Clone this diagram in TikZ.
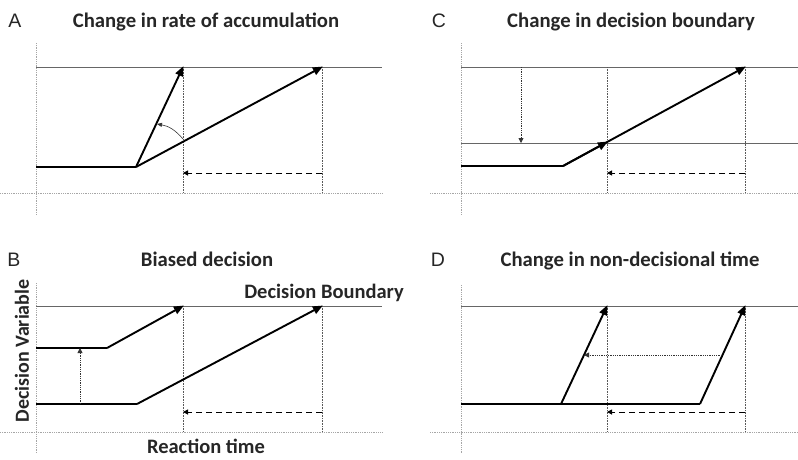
\documentclass[tikz,border=0pt]{standalone}
\usepackage{fontspec}
\setmainfont{Carlito}
\newfontfamily\arialf{Liberation Sans}
\usetikzlibrary{arrows.meta}
\begin{document}
\begin{tikzpicture}[x=1pt,y=-1pt,
  axisline/.style={gray!70, line width=0.8pt, densely dotted},
  bound/.style={gray!80!black, line width=0.9pt},
  guide/.style={gray!70!black, line width=0.6pt, densely dotted},
  trace/.style={black, line width=1.9pt},
  tracearrow/.style={trace, -{Triangle[length=10pt,width=8pt]}, shorten >=-1pt},
  rtshift/.style={black, line width=1pt, dash pattern=on 6pt off 4pt, -{Triangle[length=5pt,width=5pt]}},
  dotarrow/.style={black!80, line width=0.8pt, densely dotted, -{Triangle[length=5pt,width=5pt]}},
  rotarrow/.style={gray!40!black, line width=0.6pt, -{Triangle[length=5pt,width=4pt]}},
  ttl/.style={font=\fontsize{20.7}{24}\selectfont\bfseries, text=black!85, anchor=base, inner sep=0pt},
  lett/.style={font=\arialf\fontsize{19.5}{22}\selectfont, text=black!85, anchor=base, inner sep=0pt},
  lbl/.style={font=\fontsize{20.5}{24}\selectfont\bfseries, text=black!85, inner sep=0pt}]
\useasboundingbox (0,0) rectangle (798,459);

% ---------------- Panel A ----------------
\node[lett] (Alet) at (15,27) {A};
\node[ttl] (Attl) at (206,27) {Change in rate of accumulation};
\coordinate (Aax1) at (36,43); \coordinate (Aax2) at (36,215);
\coordinate (Ahx1) at (0,193); \coordinate (Ahx2) at (382,193);
\coordinate (Ab1) at (36,67); \coordinate (Ab2) at (382,67);
\coordinate (As) at (36,167); \coordinate (Ak) at (136,167);
\coordinate (Ae1) at (183,67); \coordinate (Ae2) at (322,67);
\coordinate (Ag1) at (183,193); \coordinate (Ag2) at (322,193);
\coordinate (Ad1) at (322,173); \coordinate (Ad2) at (183,173);
\coordinate (Ac1) at (183,139); \coordinate (Ac2) at (157,124);
\draw[axisline] (Aax1) -- (Aax2);
\draw[axisline] (Ahx1) -- (Ahx2);
\draw[bound] (Ab1) -- (Ab2);
\draw[guide] (Ae1) -- (Ag1);
\draw[guide] (Ae2) -- (Ag2);
\draw[trace] (As) -- (Ak);
\draw[tracearrow] (Ak) -- (Ae1);
\draw[tracearrow] (Ak) -- (Ae2);
\draw[rotarrow] (Ac1) to[bend right=20] (Ac2);
\draw[rtshift] (Ad1) -- (Ad2);

% ---------------- Panel C ----------------
\node[lett] (Clet) at (439,27) {C};
\node[ttl] (Cttl) at (631,27) {Change in decision boundary};
\coordinate (Cax1) at (461,43); \coordinate (Cax2) at (461,215);
\coordinate (Chx1) at (430,193); \coordinate (Chx2) at (798,193);
\coordinate (Cb1) at (461,67); \coordinate (Cb2) at (798,67);
\coordinate (Cl1) at (461,143); \coordinate (Cl2) at (798,143);
\coordinate (Cs) at (461,166); \coordinate (Ck) at (563,166);
\coordinate (Cm) at (607,142); \coordinate (Ce) at (745,67);
\coordinate (Cg1) at (607,193); \coordinate (Cg2) at (745,193);
\coordinate (Ct1) at (607,67);
\coordinate (Cd1) at (745,173); \coordinate (Cd2) at (607,173);
\coordinate (Cv1) at (521,67); \coordinate (Cv2) at (521,143);
\draw[axisline] (Cax1) -- (Cax2);
\draw[axisline] (Chx1) -- (Chx2);
\draw[bound] (Cb1) -- (Cb2);
\draw[bound] (Cl1) -- (Cl2);
\draw[guide] (Ct1) -- (Cg1);
\draw[guide] (Ce) -- (Cg2);
\draw[trace] (Cs) -- (Ck);
\draw[tracearrow] (Ck) -- (Ce);
\draw[tracearrow] (Ck) -- (Cm);
\draw[dotarrow] (Cv1) -- (Cv2);
\draw[rtshift] (Cd1) -- (Cd2);

% ---------------- Panel B ----------------
\node[lett] (Blet) at (14,266) {B};
\node[ttl] (Bttl) at (207,266) {Biased decision};
\node[lbl, anchor=base] (Bbnd) at (324,298) {Decision Boundary};
\node[lbl, rotate=90, font=\fontsize{20}{24}\selectfont\bfseries] (Bvar) at (22,351) {Decision Variable};
\node[lbl, anchor=base] (Brt) at (206,453) {Reaction time};
\coordinate (Bax1) at (36,283); \coordinate (Bax2) at (36,453);
\coordinate (Bhx1) at (0,432); \coordinate (Bhx2) at (382,432);
\coordinate (Bb1) at (36,306); \coordinate (Bb2) at (382,306);
\coordinate (Bu1) at (36,348); \coordinate (Buk) at (107,348);
\coordinate (Bl1) at (36,404); \coordinate (Blk) at (137,404);
\coordinate (Be1) at (183,306); \coordinate (Be2) at (322,306);
\coordinate (Bg1) at (183,432); \coordinate (Bg2) at (322,432);
\coordinate (Bd1) at (322,412); \coordinate (Bd2) at (183,412);
\coordinate (Bv1) at (80,404); \coordinate (Bv2) at (80,348);
\draw[axisline] (Bax1) -- (Bax2);
\draw[axisline] (Bhx1) -- (Bhx2);
\draw[bound] (Bb1) -- (Bb2);
\draw[guide] (Be1) -- (Bg1);
\draw[guide] (Be2) -- (Bg2);
\draw[trace] (Bu1) -- (Buk);
\draw[tracearrow] (Buk) -- (Be1);
\draw[trace] (Bl1) -- (Blk);
\draw[tracearrow] (Blk) -- (Be2);
\draw[dotarrow] (Bv1) -- (Bv2);
\draw[rtshift] (Bd1) -- (Bd2);

% ---------------- Panel D ----------------
\node[lett] (Dlet) at (438,266) {D};
\node[ttl] (Dttl) at (630,266) {Change in non-decisional time};
\coordinate (Dax1) at (461,285); \coordinate (Dax2) at (461,453);
\coordinate (Dhx1) at (430,432); \coordinate (Dhx2) at (798,432);
\coordinate (Db1) at (461,306); \coordinate (Db2) at (798,306);
\coordinate (Ds) at (461,404); \coordinate (Dk2) at (700,404);
\coordinate (Dk1) at (561,404);
\coordinate (De1) at (607,306); \coordinate (De2) at (745,306);
\coordinate (Dg1) at (607,432); \coordinate (Dg2) at (745,432);
\coordinate (Dd1) at (745,412); \coordinate (Dd2) at (607,412);
\coordinate (Dh1) at (722,355); \coordinate (Dh2) at (584,355);
\draw[axisline] (Dax1) -- (Dax2);
\draw[axisline] (Dhx1) -- (Dhx2);
\draw[bound] (Db1) -- (Db2);
\draw[guide] (De1) -- (Dg1);
\draw[guide] (De2) -- (Dg2);
\draw[trace] (Ds) -- (Dk2);
\draw[tracearrow] (Dk1) -- (De1);
\draw[tracearrow] (Dk2) -- (De2);
\draw[dotarrow] (Dh1) -- (Dh2);
\draw[rtshift] (Dd1) -- (Dd2);
\end{tikzpicture}
\end{document}
